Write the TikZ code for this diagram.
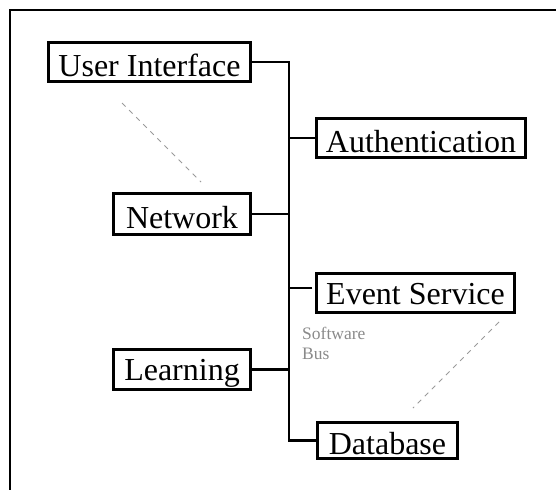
\documentclass[tikz,border=0pt]{standalone}
\usepackage{fontspec}
\setmainfont{Liberation Serif}
\definecolor{busgray}{HTML}{8A8A8A}
\definecolor{dashgray}{HTML}{9A9A9A}
\begin{document}
\begin{tikzpicture}[x=1pt,y=-1pt,
  comp/.style={draw=black,line width=2.3pt,inner sep=0pt,fill=white,
    text height=30pt,text depth=2pt,
    font=\fontsize{32}{38}\selectfont},
  lowdesc/.style={text height=27pt,text depth=5pt},
  conn/.style={draw=black,line width=2.3pt},
  frame/.style={draw=black,line width=2.6pt},
  hint/.style={draw=dashgray,line width=0.8pt,dash pattern=on 5pt off 5pt},
  buslabel/.style={text=busgray,font=\fontsize{17.5}{20}\selectfont,align=left,inner sep=0pt,anchor=north west}]
\useasboundingbox (0,0) rectangle (556,490);
\draw[frame] (556,10) -- (10,10) -- (10,490);
\coordinate (bus) at (289,0);
\node[comp,minimum width=202pt,minimum height=39pt] (ui) at (149.5,62) {User Interface};
\node[comp,minimum width=209pt,minimum height=39pt] (auth) at (421,138) {Authentication};
\node[comp,minimum width=137pt,minimum height=41pt] (net) at (182,214) {Network};
\node[comp,lowdesc,minimum width=198pt,minimum height=39pt] (ev) at (415.5,293) {Event Service};
\node[comp,lowdesc,minimum width=137pt,minimum height=40pt] (learn) at (182,369.5) {Learning};
\node[comp,minimum width=140pt,minimum height=36pt] (db) at (387.5,440.5) {Database};
\draw[conn] (ui.east) -| (db.west -| bus) -- (db.west);
\draw[conn] (auth.west) -- (auth.west -| bus);
\draw[conn] (net.east) -- (net.east -| bus);
\draw[conn] ([yshift=5pt,xshift=-3pt]ev.west) -- ([yshift=5pt]ev.west -| bus);
\draw[conn] (learn.east) -- (learn.east -| bus);
\node[buslabel] (sb) at (302,327) {Software\\Bus};
\coordinate (h1a) at (122,103);
\coordinate (h1b) at (201,182);
\coordinate (h2a) at (499,322);
\coordinate (h2b) at (413,408);
\draw[hint] (h1a) -- (h1b);
\draw[hint] (h2a) -- (h2b);
\end{tikzpicture}
\end{document}
